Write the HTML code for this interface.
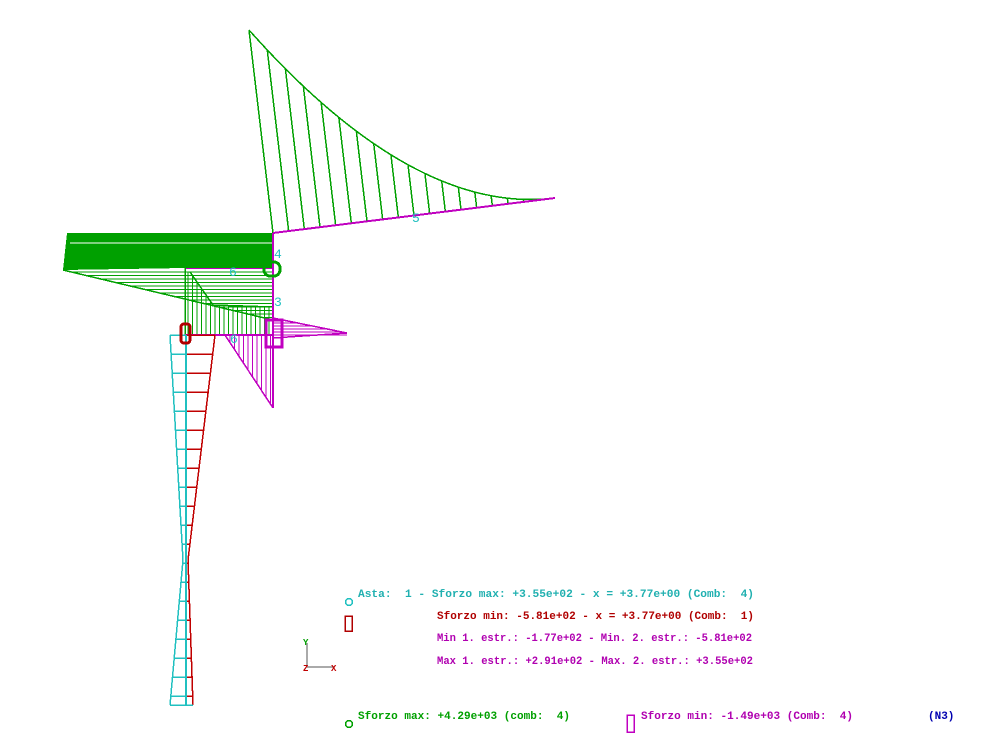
<!DOCTYPE html>
<html><head><meta charset="utf-8"><style>
html,body{margin:0;padding:0;background:#fff;width:1000px;height:750px;overflow:hidden}
svg{display:block}
text{font-family:"Liberation Mono",monospace;font-size:11px;font-weight:bold;white-space:pre}
</style></head><body>
<svg id="s" width="1000" height="750" viewBox="0 0 1000 750" xmlns="http://www.w3.org/2000/svg" shape-rendering="crispEdges">
<g id="g"></g>
<polygon points="67,233 273,233 273,268 185,268 63,270" fill="#00a000"/>
<line x1="70" y1="243" x2="273" y2="243" stroke="#fff" stroke-width="1"/>
<line x1="186" y1="335" x2="186" y2="706" stroke="#20c0c0" stroke-width="2"/>
<line x1="273" y1="233" x2="273" y2="408" stroke="#c000c0" stroke-width="2"/>
<text x="274" y="258" fill="#20c0c0" style="font-size:13px;font-weight:normal">4</text>
<text x="274" y="306" fill="#20c0c0" style="font-size:13px;font-weight:normal">3</text>
<text x="412" y="222" fill="#20c0c0" style="font-size:13px;font-weight:normal">5</text>
<text x="229" y="276" fill="#20c0c0" style="font-size:13px;font-weight:normal">6</text>
<text x="230" y="343" fill="#20c0c0" style="font-size:13px;font-weight:normal">6</text>
<rect x="264" y="262" width="16" height="14" rx="6" fill="none" stroke="#00a000" stroke-width="3"/>
<rect x="181" y="324" width="9" height="19" rx="3" fill="none" stroke="#b00000" stroke-width="3"/>
<rect x="266" y="320" width="16" height="27" fill="none" stroke="#c000c0" stroke-width="3"/>
<line x1="307" y1="643" x2="307" y2="667" stroke="#aaa" stroke-width="2"/>
<line x1="307" y1="667" x2="334" y2="667" stroke="#aaa" stroke-width="2"/>
<text x="303" y="645" fill="#00a000" style="font-size:9px">Y</text>
<text x="303" y="671" fill="#c00000" style="font-size:9px">Z</text>
<text x="331" y="671" fill="#c00000" style="font-size:9px">X</text>
<circle cx="349" cy="602" r="3.5" fill="none" stroke="#20c0c0" stroke-width="1.5"/>
<rect x="345" y="616" width="7" height="15" fill="none" stroke="#b00000" stroke-width="1.5"/>
<circle cx="349" cy="724" r="3.5" fill="none" stroke="#00a000" stroke-width="1.5"/>
<rect x="627" y="715" width="7" height="17" fill="none" stroke="#c000c0" stroke-width="1.5"/>
<text x="358" y="597" fill="#20b0b0" textLength="396" lengthAdjust="spacingAndGlyphs">Asta:  1 - Sforzo max: +3.55e+02 - x = +3.77e+00 (Comb:  4)</text>
<text x="437" y="619" fill="#b00000" textLength="317" lengthAdjust="spacingAndGlyphs">Sforzo min: -5.81e+02 - x = +3.77e+00 (Comb:  1)</text>
<text x="437" y="641" fill="#b000b0" textLength="315" lengthAdjust="spacingAndGlyphs">Min 1. estr.: -1.77e+02 - Min. 2. estr.: -5.81e+02</text>
<text x="437" y="664" fill="#b000b0" textLength="316" lengthAdjust="spacingAndGlyphs">Max 1. estr.: +2.91e+02 - Max. 2. estr.: +3.55e+02</text>
<text x="358" y="719" fill="#00a000" textLength="212" lengthAdjust="spacingAndGlyphs">Sforzo max: +4.29e+03 (comb:  4)</text>
<text x="641" y="719" fill="#b000b0" textLength="212" lengthAdjust="spacingAndGlyphs">Sforzo min: -1.49e+03 (Comb:  4)</text>
<text x="928" y="719" fill="#0000b0">(N3)</text>
</svg>
<script>
var g=document.getElementById('g'),NS='http://www.w3.org/2000/svg';
function L(a,b,c,d,col,w){var l=document.createElementNS(NS,'line');l.setAttribute('x1',a);l.setAttribute('y1',b);l.setAttribute('x2',c);l.setAttribute('y2',d);l.setAttribute('stroke',col);l.setAttribute('stroke-width',w||1.5);g.appendChild(l);}
var G='#00a000',M='#c000c0',C='#20c0c0',R='#c00000';
function curve(t){var bx=273+t*(555-273), by=233+t*(198-233);var h=(1-t)*(1-t)*203;return [bx-h*24/203, by-h, bx, by];}
var prev=null;
for(var i=0;i<=60;i++){var c=curve(i/60);if(prev)L(prev[0],prev[1],c[0],c[1],G,1.5);prev=c;}
for(var i=0;i<=17;i++){var c=curve(i/18);L(c[0],c[1],c[2],c[3],G,1.5);}
L(273,233,555,198,M,2);
L(63,270,273,320,G,1.5);
for(var y=272;y<=318;y+=3.5){var xl=63+(y-270)*210/50;L(xl,y,273,y,G,1.2);}
L(185,268,273,268,M,2);
L(185,268,185,335,G,1.5);
L(190,272,213,305,G,1.5);
L(213,305,273,307,G,1.5);
for(var x=188;x<273;x+=4.5){var yt=x<213?272+(x-190)*33/23:306;L(x,Math.max(yt,272),x,335,G,1.2);}
L(185,335,273,335,M,2);
L(273,318,347,333,M,1.5);L(273,338,347,333,M,1.5);
for(var y=320;y<=336;y+=3){L(273,y,273+(y<333?(y-318)*74/15:74),y,M,1.2);}
L(225,335,273,408,M,1.5);
for(var x=230;x<273;x+=4.5){L(x,335,x,335+(x-225)*73/48,M,1.2);}
function cy(y){return y<560?170+(y-335)*13/225:183-(y-560)*13/145;}
function rd(y){return y<560?215-(y-335)*27/225:188+(y-560)*5/145;}
var pc=null,pr=null;
for(var y=335;y<=705;y+=5){var a=cy(y),b=rd(y);if(pc){L(pc[0],pc[1],a,y,C,1.5);L(pr[0],pr[1],b,y,R,1.5);}pc=[a,y];pr=[b,y];}
for(var y=335;y<=705;y+=19){L(cy(y),y,186,y,C,1.5);L(186,y,rd(y),y,R,1.5);}
L(170,705,193,705,C,1.5);
</script>
</body></html>
